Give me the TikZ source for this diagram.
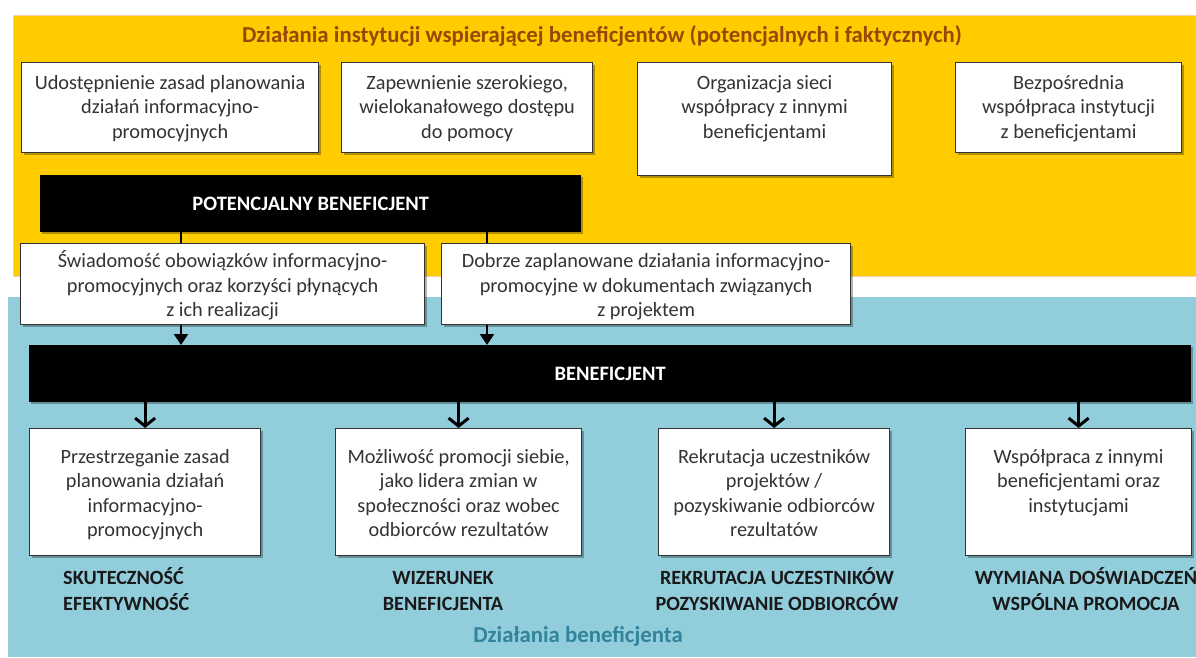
\documentclass[tikz,border=0pt]{standalone}
\usepackage{fontspec}
\setmainfont{Carlito}
\usetikzlibrary{arrows.meta,shadows}
\definecolor{ybg}{HTML}{FFCC00}
\definecolor{bbg}{HTML}{92CDDC}
\definecolor{ttl}{HTML}{974806}
\definecolor{tealtxt}{HTML}{31849B}
\definecolor{txt}{HTML}{333333}
\definecolor{yedge}{HTML}{F6D2A8}
\newcommand\bxt[4]{\parbox[c][#2][t]{#1}{\centering\vspace*{#3}\strut #4\par}}
\newcommand\lbt[3]{\parbox[t]{#1}{#2\strut #3\par}}
\tikzset{
  wbox/.style={draw=black!80, line width=1.2pt, fill=white, inner sep=0pt, anchor=north west,
    font=\fontsize{20.3}{24.5}\selectfont, text=txt,
    drop shadow={shadow xshift=2pt, shadow yshift=-2pt, fill=black, opacity=0.3}},
  barbox/.style={fill=black, text=white, inner sep=0pt, anchor=north west,
    font=\bfseries\fontsize{20.5}{24}\selectfont,
    drop shadow={shadow xshift=1.5pt, shadow yshift=-1.5pt, fill=black, opacity=0.3}},
  lbl/.style={font=\bfseries\fontsize{20.2}{26.5}\selectfont, text=black!90, inner sep=0pt},
  conn/.style={line width=2pt, draw=black},
  tri/.style={conn, -{Triangle[length=11pt,width=14pt]}},
  barb/.style={line width=3pt, draw=black, -{Straight Barb[length=8pt,width=20pt]}},
}
\begin{document}
\begin{tikzpicture}[x=1pt,y=-1pt]
\useasboundingbox (0,0) rectangle (1196,657);
% background panels
\fill[bbg] (8,297) rectangle (1196,657);
\fill[ybg, draw=yedge, line width=1pt] (13,15) rectangle (1200,276);
% titles
\node[anchor=base, inner sep=0pt, text=ttl, font=\bfseries\fontsize{22.8}{26}\selectfont] (title) at (602,42)
  {Działania instytucji wspierającej beneficjentów (potencjalnych i faktycznych)};
\node[anchor=base, inner sep=0pt, text=tealtxt, font=\bfseries\fontsize{22.8}{26}\selectfont] (title2) at (578,642)
  {Działania beneficjenta};
% top boxes
\node[wbox] (b1) at (21,62) {\bxt{297pt}{90pt}{9.5pt}{Udostępnienie zasad planowania\\działań informacyjno-\\promocyjnych}};
\node[wbox] (b2) at (341,62) {\bxt{251pt}{90pt}{9.5pt}{Zapewnienie szerokiego,\\wielokanałowego dostępu\\do pomocy}};
\node[wbox] (b3) at (637,62) {\bxt{254pt}{113pt}{9.5pt}{Organizacja sieci\\współpracy z innymi\\beneficjentami}};
\node[wbox] (b4) at (955,62) {\bxt{226pt}{90pt}{9.5pt}{Bezpośrednia\\współpraca instytucji\\z beneficjentami}};
% potential beneficiary bar
\node[barbox, minimum width=541pt, minimum height=57pt] (pb) at (40,175) {POTENCJALNY BENEFICJENT};
% middle boxes
\node[wbox] (sw) at (20,243) {\bxt{404pt}{81pt}{7pt}{Świadomość obowiązków informacyjno-\\promocyjnych oraz korzyści płynących\\z ich realizacji}};
\node[wbox] (db) at (441,243) {\bxt{409pt}{81pt}{7pt}{Dobrze zaplanowane działania informacyjno-\\promocyjne w dokumentach związanych\\z projektem}};
% beneficiary bar
\node[barbox, minimum width=1162pt, minimum height=57pt] (ben) at (29,345) {BENEFICJENT};
% bottom boxes
\node[wbox] (A) at (29,428) {\bxt{231pt}{127pt}{17.5pt}{Przestrzeganie zasad\\planowania działań\\informacyjno-\\promocyjnych}};
\node[wbox] (B) at (335,428) {\bxt{246pt}{127pt}{17.5pt}{Możliwość promocji siebie,\\jako lidera zmian w\\społeczności oraz wobec\\odbiorców rezultatów}};
\node[wbox] (C) at (658,428) {\bxt{231pt}{127pt}{17.5pt}{Rekrutacja uczestników\\projektów /\\pozyskiwanie odbiorców\\rezultatów}};
\node[wbox] (D) at (965,428) {\bxt{226pt}{127pt}{17.5pt}{Współpraca z innymi\\beneficjentami oraz\\instytucjami}};
% bottom labels
\node[lbl, anchor=north west] (L1) at (63,565.5) {\lbt{200pt}{\raggedright}{SKUTECZNOŚĆ\\EFEKTYWNOŚĆ}};
\node[lbl, anchor=north] (L2) at (443,565.5) {\lbt{220pt}{\centering}{WIZERUNEK\\BENEFICJENTA}};
\node[lbl, anchor=north] (L3) at (777,565.5) {\lbt{300pt}{\centering}{REKRUTACJA UCZESTNIKÓW\\POZYSKIWANIE ODBIORCÓW}};
\node[lbl, anchor=north] (L4) at (1086,565.5) {\lbt{280pt}{\centering}{WYMIANA DOŚWIADCZEŃ\\WSPÓLNA PROMOCJA}};
% connectors
\coordinate (xa) at (181,0);
\coordinate (xb) at (487,0);
\draw[conn] (pb.south -| xa) -- (sw.north -| xa);
\draw[conn] (pb.south -| xb) -- (db.north -| xb);
\draw[tri] (sw.south -| xa) -- (ben.north -| xa);
\draw[tri] (db.south -| xb) -- (ben.north -| xb);
\draw[barb] (ben.south -| A.north) -- (A.north);
\draw[barb] (ben.south -| B.north) -- (B.north);
\draw[barb] (ben.south -| C.north) -- (C.north);
\draw[barb] (ben.south -| D.north) -- (D.north);
\end{tikzpicture}
\end{document}
